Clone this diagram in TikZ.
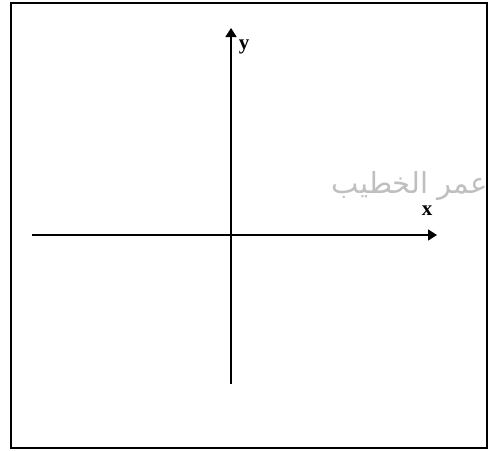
\documentclass[tikz,border=0pt]{standalone}
\usepackage{fontspec}
\usepackage{tikz}
\usetikzlibrary{positioning, arrows.meta}
\TeXXeTstate=1
\newfontfamily\arabicfont[Script=Arabic]{DejaVu Sans}
\setmainfont{Liberation Serif}
\definecolor{markgray}{rgb}{0.75,0.75,0.75}

\begin{document}
\begin{tikzpicture}[
  x=1pt, y=-1pt,
  axis/.style={line width=1.6pt, -{Triangle[length=9pt, width=11pt]}},
  lbl/.style={font=\bfseries\fontsize{21}{21}\selectfont, inner sep=0pt, anchor=base},
  frame/.style={draw, line width=2.2pt}
]
\useasboundingbox (0,0) rectangle (489,450);
\draw[frame] (11,3) rectangle (487,448);

\coordinate (xstart) at (32,235);
\coordinate (xend) at (437,235);
\coordinate (ystart) at (231,384);
\coordinate (yend) at (231,28);

\draw[axis] (xstart) -- (xend);
\draw[axis] (ystart) -- (yend);

\node[lbl] (ylabel) at (244,49) {y};
\node[lbl] (xlabel) at (427,215) {x};
\node[text=markgray, font=\arabicfont\fontsize{29}{29}\selectfont, inner sep=0pt, anchor=east]
  (mark) at (488,186) {\beginR عمر الخطيب\endR};
\end{tikzpicture}
\end{document}
